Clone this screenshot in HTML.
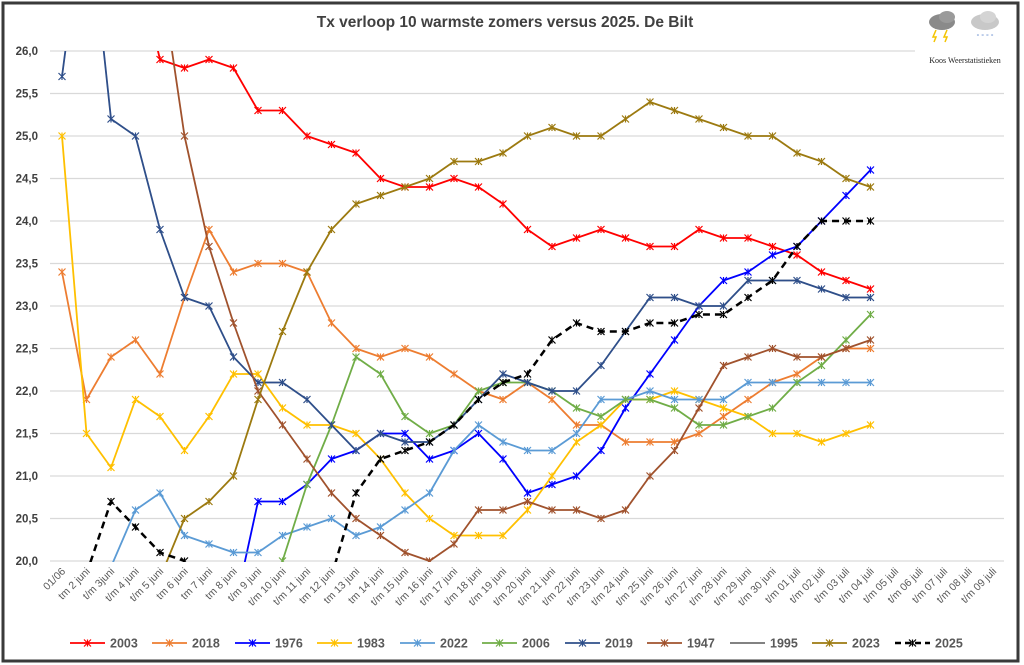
<!DOCTYPE html>
<html><head><meta charset="utf-8"><style>
body{margin:0;background:#fff;}
svg{display:block;font-family:"Liberation Sans",sans-serif;}
</style></head><body>
<svg id="chart" width="1024" height="665">
<rect x="3" y="3" width="1015" height="658" fill="#fff" stroke="#3a3a3a" stroke-width="3"/>
<text x="505" y="27" text-anchor="middle" font-size="15.5" font-weight="bold" fill="#404040">Tx verloop 10 warmste zomers versus 2025. De Bilt</text>
<g id="grid"></g>
<g id="yticks"></g>
<g id="xticks"></g>
<defs><clipPath id="pc"><rect x="50" y="51" width="960" height="511"/></clipPath></defs>
<g id="series" clip-path="url(#pc)"></g>
<g>
<rect x="915" y="8" width="98" height="62" fill="#fff"/>
<ellipse cx="942" cy="22" rx="13" ry="8" fill="#8a8a8a"/><ellipse cx="947" cy="17" rx="8" ry="6" fill="#9a9a9a"/>
<path d="M936 30 l-3 7 h3 l-2 5" stroke="#f4c400" stroke-width="1.5" fill="none"/><path d="M947 30 l-3 7 h3 l-2 5" stroke="#f4c400" stroke-width="1.5" fill="none"/>
<ellipse cx="985" cy="22" rx="14" ry="8" fill="#c8c8c8"/><ellipse cx="988" cy="17" rx="8" ry="6" fill="#d4d4d4"/>
<text x="985" y="39" text-anchor="middle" font-size="7" fill="#6a8fd0">° ° ° °</text>
<text x="965" y="63" text-anchor="middle" font-size="8" font-family="Liberation Serif, serif" fill="#222">Koos Weerstatistieken</text>
</g>
<g id="legend"></g>
</svg>
<script>
const categories=["01/06","tm 2 juni","t/m 3juni","t/m 4 juni","t/m 5 juni","tm 6 juni","tm 7 juni","tm 8 juni","t/m 9 juni","t/m 10 juni","t/m 11 juni","tm 12 juni","tm 13 juni","tm 14 juni","t/m 15 juni","t/m 16 juni","t/m 17 juni","t/m 18 juni","t/m 19 juni","t/m 20 juni","t/m 21 juni","t/m 22 juni","t/m 23 juni","t/m 24 juni","t/m 25 juni","t/m 26 juni","t/m 27 juni","t/m 28 juni","t/m 29 juni","t/m 30 juni","t/m 01 juli","t/m 02 juli","t/m 03 juli","t/m 04 juli","t/m 05 juli","t/m 06 juli","t/m 07 juli","t/m 08 juli","t/m 09 juli"];
const yTicks=[20.0,20.5,21.0,21.5,22.0,22.5,23.0,23.5,24.0,24.5,25.0,25.5,26.0];
const seriesNames=["1995","2003","2018","1976","1983","2022","2006","2019","1947","2023","2025"];
const legendOrder=["2003","2018","1976","1983","2022","2006","2019","1947","1995","2023","2025"];
const v2003=[null,null,null,27.1,25.9,25.8,25.9,25.8,25.3,25.3,25.0,24.9,24.8,24.5,24.4,24.4,24.5,24.4,24.2,23.9,23.7,23.8,23.9,23.8,23.7,23.7,23.9,23.8,23.8,23.7,23.6,23.4,23.3,23.2];
const v2018=[23.4,21.9,22.4,22.6,22.2,23.1,23.9,23.4,23.5,23.5,23.4,22.8,22.5,22.4,22.5,22.4,22.2,22.0,21.9,22.1,21.9,21.6,21.6,21.4,21.4,21.4,21.5,21.7,21.9,22.1,22.2,22.4,22.5,22.5];
const v1976=[null,null,null,null,null,null,null,19.38,20.7,20.7,20.9,21.2,21.3,21.5,21.5,21.2,21.3,21.5,21.2,20.8,20.9,21.0,21.3,21.8,22.2,22.6,23.0,23.3,23.4,23.6,23.7,24.0,24.3,24.6];
const v1983=[25.0,21.5,21.1,21.9,21.7,21.3,21.7,22.2,22.2,21.8,21.6,21.6,21.5,21.2,20.8,20.5,20.3,20.3,20.3,20.6,21.0,21.4,21.6,21.9,21.9,22.0,21.9,21.8,21.7,21.5,21.5,21.4,21.5,21.6];
const v2022=[null,null,19.93,20.6,20.8,20.3,20.2,20.1,20.1,20.3,20.4,20.5,20.3,20.4,20.6,20.8,21.3,21.6,21.4,21.3,21.3,21.5,21.9,21.9,22.0,21.9,21.9,21.9,22.1,22.1,22.1,22.1,22.1,22.1];
const v2006=[null,null,null,null,null,null,null,null,null,20.0,20.9,21.6,22.4,22.2,21.7,21.5,21.6,22.0,22.1,22.1,22.0,21.8,21.7,21.9,21.9,21.8,21.6,21.6,21.7,21.8,22.1,22.3,22.6,22.9];
const v2019=[25.7,27.9,25.2,25.0,23.9,23.1,23.0,22.4,22.1,22.1,21.9,21.6,21.3,21.5,21.4,21.4,21.6,21.9,22.2,22.1,22.0,22.0,22.3,22.7,23.1,23.1,23.0,23.0,23.3,23.3,23.3,23.2,23.1,23.1];
const v1947=[null,null,null,null,26.96,25.0,23.7,22.8,22.0,21.6,21.2,20.8,20.5,20.3,20.1,20.0,20.2,20.6,20.6,20.7,20.6,20.6,20.5,20.6,21.0,21.3,21.8,22.3,22.4,22.5,22.4,22.4,22.5,22.6];
const v1995=[25.7,27.9,25.2,25.0,23.9,23.1,23.0,22.4,22.1,22.1,21.9,21.6,21.3,21.5,21.4,21.4,21.6,21.9,22.2,22.1,22.0,22.0,22.3,22.7,23.1,23.1,23.0,23.0,23.3,23.3,23.3,23.2,23.1,23.1];
const v2023=[null,null,null,null,19.8,20.5,20.7,21.0,21.9,22.7,23.4,23.9,24.2,24.3,24.4,24.5,24.7,24.7,24.8,25.0,25.1,25.0,25.0,25.2,25.4,25.3,25.2,25.1,25.0,25.0,24.8,24.7,24.5,24.4];
const v2025=[null,19.85,20.7,20.4,20.1,20.0,null,null,null,null,null,19.82,20.8,21.2,21.3,21.4,21.6,21.9,22.1,22.2,22.6,22.8,22.7,22.7,22.8,22.8,22.9,22.9,23.1,23.3,23.7,24.0,24.0,24.0];
const values={"2003":v2003,"2018":v2018,"1976":v1976,"1983":v1983,"2022":v2022,"2006":v2006,"2019":v2019,"1947":v1947,"1995":v1995,"2023":v2023,"2025":v2025};
const colors={"2003":"#ff0000","2018":"#ed7d31","1976":"#0000ff","1983":"#ffc000","2022":"#5b9bd5","2006":"#70ad47","2019":"#2f4f8a","1947":"#a0522d","1995":"#707070","2023":"#9c7a10","2025":"#000000"};
const NS="http://www.w3.org/2000/svg";
const x=i=>62+24.5*i;
const y=v=>561-(v-20)*85;
function mk(t,a,p){const e=document.createElementNS(NS,t);for(const k in a)e.setAttribute(k,a[k]);p.appendChild(e);return e;}
const grid=document.getElementById('grid'),yt=document.getElementById('yticks'),xt=document.getElementById('xticks');
yTicks.forEach(t=>{
 const l=mk('line',{x1:50,x2:1004,y1:y(t),y2:y(t),stroke:'#d9d9d9','stroke-width':1.3},grid);
 
 
 const tx=mk('text',{x:38,y:y(t)+4,'text-anchor':'end','font-size':11.5,'font-weight':'bold',fill:'#404040'},yt);
 tx.textContent=t.toFixed(1).replace('.',',');
 
 
});
categories.forEach((c,i)=>{
 const tx=mk('text',{x:x(i)+4,y:572,'text-anchor':'end','font-size':10.5,fill:'#595959',transform:`rotate(-45 ${x(i)+4} 572)`},xt);
 tx.textContent=c;
 
 
});
function star(g,cx,cy,col,s){
 const p=mk('path',{d:`M${cx-s} ${cy-s}L${cx+s} ${cy+s}M${cx-s} ${cy+s}L${cx+s} ${cy-s}M${cx} ${cy-s}V${cy+s}`,stroke:col,'stroke-width':1.2,fill:'none'},g);
 
 
}
const sg=document.getElementById('series');
seriesNames.forEach(n=>{
 const vals=values[n],col=colors[n];
 const g=mk('g',{},sg);
 
 
 let d='',pen=false;
 vals.forEach((v,i)=>{if(v==null){pen=false;return;}d+=(pen?'L':'M')+x(i)+' '+y(v);pen=true;});
 const attrs={d:d,stroke:col,'stroke-width':n==='2025'?2.5:(n==='1995'?1.2:1.8),fill:'none','stroke-linejoin':'round'};
 if(n==='2025')attrs['stroke-dasharray']='7 5';
 const p=mk('path',attrs,g);
 
 
 if(n!=='1995')vals.forEach((v,i)=>{if(v!=null)star(g,x(i),y(v),col,3.5);});
});
const lg=document.getElementById('legend');
const lx=[70,152,235,317,400,482,565,647,730,812,895];
legendOrder.forEach((n,k)=>{
 const g=mk('g',{},lg);
 
 
 const X=lx[k],Y=643;
 const l=mk('line',{x1:X,x2:X+35,y1:Y,y2:Y,stroke:colors[n],'stroke-width':n==='2025'?2.5:1.8},g);
 if(n==='2025')l.setAttribute('stroke-dasharray','6 4');
 if(n!=='1995')star(g,X+17.5,Y,colors[n],3.5);
 const t=mk('text',{x:X+40,y:Y+4.5,'font-size':12.5,'font-weight':'bold',fill:'#595959'},g);
 t.textContent=n;
});
</script>
</body></html>
